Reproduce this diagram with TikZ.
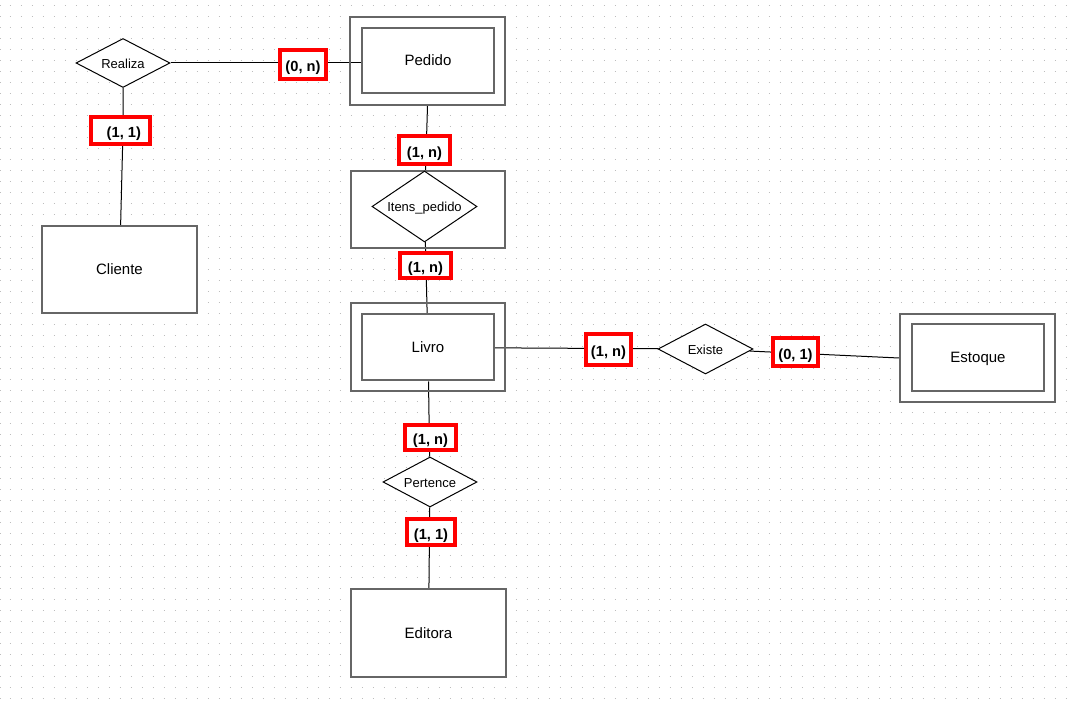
\documentclass[tikz,border=0pt]{standalone}
\usepackage{fontspec}
\setmainfont{Liberation Sans}
\usetikzlibrary{shapes.geometric,backgrounds}
\definecolor{entgray}{HTML}{666666}
\definecolor{dotgray}{HTML}{BDBDBD}
\definecolor{cardred}{HTML}{FF0000}
\tikzset{
  entity/.style={draw=entgray, line width=1.5pt, fill=white, inner sep=0pt, text height=8pt, text depth=0pt, font=\fontsize{11.25pt}{13pt}\selectfont},
  entbox/.style={draw=entgray, line width=1.5pt, inner sep=0pt},
  relation/.style={draw=black, line width=0.75pt, fill=white, shape=diamond, aspect=2, inner sep=0pt, text height=8pt, text depth=0pt, font=\fontsize{9.75pt}{11pt}\selectfont},
  card/.style={draw=cardred, line width=3pt, fill=white, inner sep=0pt, text height=11pt, text depth=0pt, font=\bfseries\fontsize{11pt}{13pt}\selectfont},
  conn/.style={draw=black, line width=0.75pt}
}
\begin{document}
\begin{tikzpicture}[x=0.75pt,y=-0.75pt]
\useasboundingbox (0,0) rectangle (1072,705);

% entities
\node[entbox, minimum width={155*0.75pt}, minimum height={88*0.75pt}] (pedidoout) at (427.5,61) {};
\node[entity, minimum width={132*0.75pt}, minimum height={65*0.75pt}] (pedido) at (428,60.5) {Pedido};
\node[entity, minimum width={155*0.75pt}, minimum height={87*0.75pt}] (cliente) at (119.5,269.5) {Cliente};
\node[entbox, minimum width={154*0.75pt}, minimum height={77*0.75pt}] (itensbox) at (428,209.5) {};
\node[relation, minimum width={105*0.75pt}, minimum height={71*0.75pt}] (itens) at (424.5,206.5) {Itens\_pedido};
\node[entbox, minimum width={154*0.75pt}, minimum height={88*0.75pt}] (livroout) at (428,347) {};
\node[entity, minimum width={132*0.75pt}, minimum height={66*0.75pt}] (livro) at (428,347.5) {Livro};
\node[entbox, minimum width={155*0.75pt}, minimum height={88*0.75pt}] (estoqueout) at (977.5,358) {};
\node[entity, minimum width={132*0.75pt}, minimum height={67*0.75pt}] (estoque) at (978,357.5) {Estoque};
\node[entity, minimum width={155*0.75pt}, minimum height={88*0.75pt}] (editora) at (428.5,633) {Editora};

% relationships
\node[relation, minimum width={94*0.75pt}, minimum height={49*0.75pt}] (realiza) at (123,63) {Realiza};
\node[relation, minimum width={95*0.75pt}, minimum height={50*0.75pt}] (existe) at (705.5,349) {Existe};
\node[relation, minimum width={94*0.75pt}, minimum height={50*0.75pt}] (pertence) at (430,482) {Pertence};

% cardinalities
\node[card, minimum width={46*0.75pt}, minimum height={29*0.75pt}] (c1) at (303,64.5) {(0, n)};
\node[card, minimum width={59*0.75pt}, minimum height={27*0.75pt}] (c2) at (120.5,130.5) {\hspace{5pt}(1, 1)};
\node[card, minimum width={51*0.75pt}, minimum height={28*0.75pt}] (c3) at (424.5,150) {(1, n)};
\node[card, minimum width={51*0.75pt}, minimum height={25*0.75pt}] (c4) at (425.5,265.5) {(1, n)};
\node[card, minimum width={45*0.75pt}, minimum height={31*0.75pt}] (c5) at (608.5,349.5) {(1, n)};
\node[card, minimum width={45*0.75pt}, minimum height={28*0.75pt}] (c6) at (795.5,352) {(0, 1)};
\node[card, minimum width={51*0.75pt}, minimum height={25*0.75pt}] (c7) at (430.5,437.5) {(1, n)};
\node[card, minimum width={48*0.75pt}, minimum height={26*0.75pt}] (c8) at (431,532) {(1, 1)};

\begin{scope}[on background layer]
  \fill[white] (0,0) rectangle (1072,705);
  % dotted grid
  \foreach \r in {0,...,63} {
    \draw[dotgray, line width=0.75pt, dash pattern=on 0.75pt off 7.5pt] (9.8,{6+11*\r}) -- (1072,{6+11*\r});
    \draw[dotgray, line width=0.75pt] (-0.2,{6+11*\r}) -- (0.8,{6+11*\r});
  }
  % white insides of the outer boxes
  \fill[white] (pedidoout.south west) rectangle (pedidoout.north east);
  \fill[white] (itensbox.south west) rectangle (itensbox.north east);
  \fill[white] (livroout.south west) rectangle (livroout.north east);
  \fill[white] (estoqueout.south west) rectangle (estoqueout.north east);
  % connectors
  \draw[conn] (realiza) -- (realiza -| pedido);
  \draw[conn] (realiza) -- (realiza |- c2) -- (cliente);
  \draw[conn] (pedidoout.south) -- (itens);
  \draw[conn] (itens) -- (livro);
  \draw[conn] (livro) -- (existe) -- (estoqueout.west);
  \draw[conn] (livro) -- (pertence) -- (editora);
\end{scope}
\end{tikzpicture}
\end{document}
